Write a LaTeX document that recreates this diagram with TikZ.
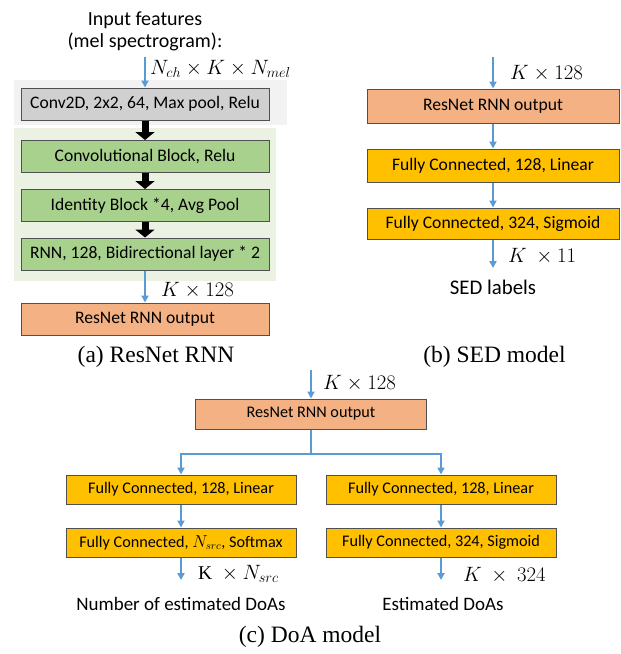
\documentclass[tikz,border=0pt]{standalone}
\usepackage{fontspec}
\setmainfont{Liberation Serif}
\newfontfamily\calfont{Carlito}
\usetikzlibrary{arrows.meta}
\definecolor{arrblue}{HTML}{5B9BD5}
\definecolor{boxline}{HTML}{505050}
\definecolor{greybox}{HTML}{D0D0D0}
\definecolor{greybg}{HTML}{F2F2F2}
\definecolor{greenbox}{HTML}{A9D18E}
\definecolor{greenbg}{HTML}{EBF1E3}
\definecolor{salmon}{HTML}{F4B183}
\definecolor{gold}{HTML}{FFC000}
\begin{document}
\begin{tikzpicture}[x=1pt,y=-1pt,
    blk/.style={draw=boxline,line width=1pt,inner sep=0pt,minimum width=248pt,minimum height=32pt,
      font=\calfont\fontsize{17.6}{19}\selectfont},
    blkc/.style={blk,minimum width=230pt,minimum height=29pt,font=\calfont\fontsize{16.2}{18}\selectfont},
    txt/.style={inner sep=0pt,font=\calfont\fontsize{19}{22}\selectfont,align=center},
    dim/.style={inner sep=0pt,anchor=west,font=\fontsize{19.5}{21}\selectfont},
    captxt/.style={inner sep=0pt,font=\fontsize{23.5}{26}\selectfont},
    flow/.style={draw=arrblue,line width=2pt,-{Triangle[width=7pt,length=7pt]}},
    thick flow/.style={draw=black,line width=7pt,-{Triangle[width=19pt,length=8pt]}}]
  \useasboundingbox (0,0) rectangle (621,654);

  % (a) ResNet RNN
  \fill[greybg] (14,80) rectangle (287,125);
  \fill[greenbg] (14,128) rectangle (276,281);
  \node[txt,font=\calfont\fontsize{20}{22}\selectfont] (inp) at (145,31) {Input features\\(mel spectrogram):};
  \coordinate (ina) at (145,57);
  \node[dim] (dima) at (150,69) {$N_{ch}\times K\times N_{mel}$};
  \node[blk,fill=greybox] (conv) at (145,104) {Conv2D, 2x2, 64, Max pool, Relu};
  \node[blk,fill=greenbox] (convblk) at (145,156.5) {Convolutional Block, Relu};
  \node[blk,fill=greenbox] (ident) at (145,205.5) {Identity Block *4, Avg Pool};
  \node[blk,fill=greenbox] (rnn) at (145,254) {RNN, 128, Bidirectional layer * 2};
  \node[dim] (dimb) at (161,290) {$K\times 128$};
  \node[blk,fill=salmon] (outa) at (145,319) {ResNet RNN output};
  \node[captxt] (capa) at (156,357) {(a) ResNet RNN};

  % (b) SED model
  \coordinate (inb) at (493,57);
  \node[dim] (dimc) at (510,73) {$K\times 128$};
  \node[blk,fill=salmon,minimum width=252pt,minimum height=34pt] (outb) at (493,106) {ResNet RNN output};
  \node[blk,fill=gold,minimum width=252pt,minimum height=33pt] (fcb1) at (493,165.5) {Fully Connected, 128, Linear};
  \node[blk,fill=gold,minimum width=252pt,minimum height=31pt] (fcb2) at (493,223.5) {Fully Connected, 324, Sigmoid};
  \coordinate (endb) at (493,268);
  \node[dim] (dimd) at (508,256) {$K\ \times 11$};
  \node[txt,font=\calfont\fontsize{20.8}{22}\selectfont] (sed) at (493,287.5) {SED labels};
  \node[captxt] (capb) at (494.5,357) {(b) SED model};

  % (c) DoA model
  \coordinate (inc) at (311,370);
  \node[dim] (dime) at (323,383.5) {$K\times 128$};
  \node[blkc,fill=salmon,minimum width=231pt,minimum height=30pt] (outc) at (311,414) {ResNet RNN output};
  \coordinate (split) at (311,454);
  \node[blkc,fill=gold] (fcl1) at (181,489.5) {Fully Connected, 128, Linear};
  \node[blkc,fill=gold] (fcl2) at (181,542.5) {Fully Connected, $N_{src}$, Softmax};
  \node[blkc,fill=gold] (fcr1) at (441,489.5) {Fully Connected, 128, Linear};
  \node[blkc,fill=gold] (fcr2) at (441,542.5) {Fully Connected, 324, Sigmoid};
  \coordinate (endl) at (181,580);
  \coordinate (endr) at (441,580);
  \node[dim] (dimf) at (198,574) {$\mathrm{K}\ \times N_{src}$};
  \node[dim] (dimg) at (463,575) {$K\ \times\ 324$};
  \node[txt] (numdoa) at (181,603.5) {Number of estimated DoAs};
  \node[txt] (estdoa) at (443,603.5) {Estimated DoAs};
  \node[captxt] (capc) at (310,637) {(c) DoA model};

  \begin{scope}[flow]
    \draw (ina) to (conv);
    \draw (rnn) to (outa);
    \draw (inb) to (outb);
    \draw (outb) to (fcb1);
    \draw (fcb1) to (fcb2);
    \draw (fcb2.south) to (endb);
    \draw (inc) to (outc);
    \draw (outc.south) -- (split) -| (fcl1.north);
    \draw (split) -| (fcr1.north);
    \draw (fcl1) to (fcl2);
    \draw (fcr1) to (fcr2);
    \draw (fcl2.south) to (endl);
    \draw (fcr2.south) to (endr);
  \end{scope}
  \begin{scope}[thick flow]
    \draw (conv) to (convblk);
    \draw (convblk) to (ident);
    \draw (ident) to (rnn);
  \end{scope}
\end{tikzpicture}
\end{document}
